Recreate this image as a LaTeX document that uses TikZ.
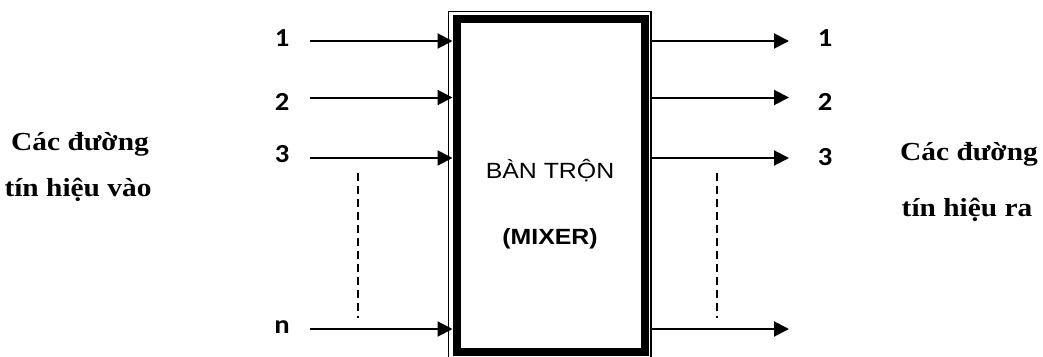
\documentclass[tikz,border=0pt]{standalone}
\usepackage{fontspec}
\setmainfont{Liberation Serif}
\newfontfamily\arialf{Liberation Sans}
\newfontfamily\calf{Carlito}
\usetikzlibrary{arrows.meta}
\newcommand{\hs}[1]{\scalebox{1.13}[1]{#1}}
\newcommand{\hd}[1]{\scalebox{1.1}[1]{#1}}
\begin{document}
\begin{tikzpicture}[x=1pt,y=-1pt,
  sig/.style={line width=2pt,-{Triangle[length=15pt,width=15pt]}},
  dots/.style={line width=1.6pt,dash pattern=on 8pt off 5pt},
  num/.style={font=\calf\fontsize{26}{26}\selectfont\bfseries,anchor=base,inner sep=0pt},
  lbl/.style={font=\fontsize{26}{26}\selectfont\bfseries,anchor=base,inner sep=0pt},
  mixbox/.style={draw,line width=8pt,minimum width=188pt,minimum height=332.3pt,inner sep=0pt,outer sep=0pt}]
\useasboundingbox (0,0) rectangle (1043,356);
\clip (0,0) rectangle (1043,356);
% box
\draw[line width=1.3pt] (448.3,11.7) rectangle (650.9,362);
\node[mixbox] (mix) at (550.5,185.35) {};
\node[font=\arialf\fontsize{22}{22}\selectfont,anchor=base,inner sep=0pt] (t1) at (550,178.5) {\hs{BÀN TRỘN}};
\node[font=\arialf\fontsize{22}{22}\selectfont\bfseries,anchor=base,inner sep=0pt] (t2) at (550,244) {\hs{(MIXER)}};
% input labels
\node[num] (l1) at (282,46) {\hd{1}};
\node[num] (l2) at (282,110) {\hd{2}};
\node[num] (l3) at (282,162) {\hd{3}};
\node[num] (ln) at (282,333) {\hd{n}};
% output labels
\node[num] (r1) at (825,46) {\hd{1}};
\node[num] (r2) at (825,110) {\hd{2}};
\node[num] (r3) at (825,165) {\hd{3}};
% side texts
\node[lbl] (a1) at (80,150) {\hs{Các đường}};
\node[lbl] (a2) at (78,196) {\hs{tín hiệu vào}};
\node[lbl] (b1) at (969,160) {\hs{Các đường}};
\node[lbl] (b2) at (967,216) {\hs{tín hiệu ra}};
% coordinates
\coordinate (is1) at (310,41);  \coordinate (ie1) at (452.5,41);
\coordinate (is2) at (310,97.5);\coordinate (ie2) at (452.5,97.5);
\coordinate (is3) at (310,158); \coordinate (ie3) at (452.5,158);
\coordinate (isn) at (310,329); \coordinate (ien) at (452.5,329);
\coordinate (os1) at (651,41);  \coordinate (oe1) at (789,41);
\coordinate (os2) at (651,97.5);\coordinate (oe2) at (789,97.5);
\coordinate (os3) at (651,158); \coordinate (oe3) at (789,158);
\coordinate (osn) at (651,329); \coordinate (oen) at (789,329);
\coordinate (dl1) at (358,173); \coordinate (dl2) at (358,318);
\coordinate (dr1) at (717,173); \coordinate (dr2) at (717,318);
\draw[sig] (is1) -- (ie1);
\draw[sig] (is2) -- (ie2);
\draw[sig] (is3) -- (ie3);
\draw[sig] (isn) -- (ien);
\draw[sig] (os1) -- (oe1);
\draw[sig] (os2) -- (oe2);
\draw[sig] (os3) -- (oe3);
\draw[sig] (osn) -- (oen);
\draw[dots] (dl1) -- (dl2);
\draw[dots] (dr1) -- (dr2);
\end{tikzpicture}
\end{document}
